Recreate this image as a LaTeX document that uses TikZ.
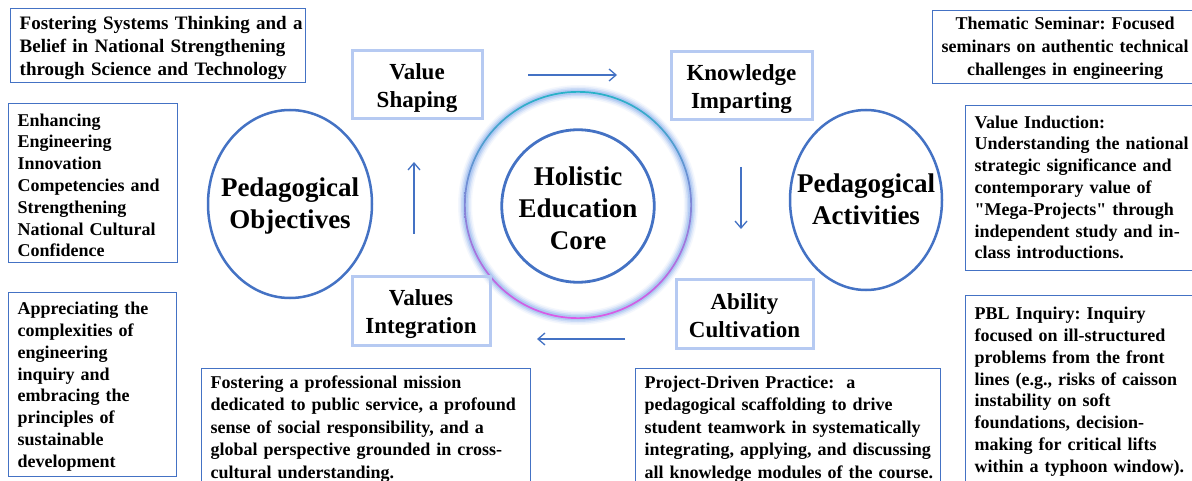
\documentclass[tikz,border=0pt]{standalone}
\usepackage{fontspec}
\setmainfont{Liberation Serif}
\newfontfamily\rawserif{Liberation Serif}[Ligatures=TeXOff]
\usetikzlibrary{arrows.meta,shapes.geometric}
\definecolor{edgeblue}{HTML}{4472C4}
\definecolor{paleedge}{RGB}{182,202,242}
\definecolor{haze}{RGB}{150,185,240}
\definecolor{ringtop}{RGB}{40,178,200}
\definecolor{ringmid}{RGB}{110,120,225}
\definecolor{ringbot}{RGB}{220,90,230}
\newcommand{\lns}[1]{\begin{tabular}{@{}l@{}}#1\end{tabular}}
\newcommand{\clns}[1]{\begin{tabular}{@{}c@{}}#1\end{tabular}}
% lower a block of lines without changing the size the node sees
\newcommand{\dropby}[2]{\raisebox{-#1}[\height][\depth]{#2}}
% straight double quote
\newcommand{\qt}{{\rawserif\bfseries"}}
\frenchspacing

\begin{document}
\begin{tikzpicture}[x=1pt,y=-1pt,
  sidebox/.style={draw=edgeblue, line width=1.4pt, anchor=north west,
    inner xsep=9pt, inner ysep=0pt, align=left,
    font=\bfseries\fontsize{18}{21.8}\selectfont},
  stagebox/.style={draw=paleedge, line width=3pt, align=center,
    inner sep=0pt, font=\bfseries\fontsize{23}{28}\selectfont},
  pillartext/.style={align=center, inner sep=0pt,
    font=\bfseries\fontsize{27}{32}\selectfont},
  pillar/.style={draw=edgeblue, line width=2.5pt},
  flow/.style={draw=edgeblue, line width=1.3pt,
    -{Straight Barb[length=7pt,width=12pt]}},
]
\useasboundingbox (0,0) rectangle (1192,481);
\clip (0,0) rectangle (1192,481);
\fill[white] (0,0) rectangle (1192,481);

% ---------- left column: objectives ----------
\node[sidebox, text width=277pt, minimum height=74pt,
      font=\bfseries\fontsize{19}{23}\selectfont] (objA) at (10,8)
  {\dropby{2pt}{\lns{Fostering Systems Thinking and a\\Belief in National Strengthening\\through Science and Technology}}};
\node[sidebox, text width=151pt, minimum height=159pt] (objB) at (8,103)
  {\dropby{4pt}{\lns{Enhancing\\Engineering\\Innovation\\Competencies and\\Strengthening\\National Cultural\\Confidence}}};
\node[sidebox, text width=150pt, minimum height=184pt] (objC) at (8,292)
  {\dropby{2pt}{\lns{Appreciating the\\complexities of\\engineering\\inquiry and\\embracing the\\principles of\\sustainable\\development}}};

% ---------- bottom row ----------
\node[sidebox, text width=311pt, minimum height=120pt,
      font=\bfseries\fontsize{18}{22.6}\selectfont] (integ) at (201,368)
  {\lns{Fostering a professional mission\\dedicated to public service, a profound\\sense of social responsibility, and a\\global perspective grounded in cross-\\cultural understanding.}};
\node[sidebox, text width=287pt, minimum height=120pt,
      font=\bfseries\fontsize{18}{22.6}\selectfont] (proj) at (635,368)
  {\lns{Project-Driven Practice:~ a\\pedagogical scaffolding to drive\\student teamwork in systematically\\integrating, applying, and discussing\\all knowledge modules of the course.}};

% ---------- right column: activities ----------
\node[sidebox, text width=246pt, minimum height=73pt, align=center,
      font=\bfseries\fontsize{18}{23}\selectfont] (seminar) at (932,10)
  {\dropby{1pt}{\clns{Thematic Seminar: Focused\\seminars on authentic technical\\challenges in engineering}}};
\node[sidebox, text width=240pt, minimum height=165pt] (induct) at (965,105)
  {\dropby{1pt}{\lns{Value Induction:\\Understanding the national\\strategic significance and\\contemporary value of\\\qt Mega-Projects\qt{} through\\independent study and in-\\class introductions.}}};
\node[sidebox, text width=240pt, minimum height=188pt] (pbl) at (965,295)
  {\dropby{2pt}{\lns{PBL Inquiry: Inquiry\\focused on ill-structured\\problems from the front\\lines (e.g., risks of caisson\\instability on soft\\foundations, decision-\\making for critical lifts\\within a typhoon window).}}};

% ---------- the two pillars ----------
\node[pillartext] (objectives) at (290,206) {Pedagogical\\Objectives};
\draw[pillar] (290,204) ellipse[x radius=82pt, y radius=94pt];
\node[pillartext] (activities) at (866,199) {Pedagogical\\Activities};
\draw[pillar] (866,200) ellipse[x radius=76pt, y radius=90pt];

% ---------- glowing ring around the core ----------
\coordinate (ringc) at (578,205);
\foreach \w/\o in {14/0.10, 11/0.18, 8/0.3, 5/0.5}
  \draw[haze, line width=\w pt, opacity=\o] (ringc) circle[radius=113pt];
\shade[top color=ringtop, middle color=ringmid, bottom color=ringbot, even odd rule]
  (ringc) circle[radius=114pt] (ringc) circle[radius=112.3pt];

\node[draw=edgeblue, line width=2.8pt, circle, minimum size=134pt, inner sep=0pt,
      font=\bfseries\fontsize{27}{32}\selectfont] (core) at (578,206)
  {\dropby{5pt}{\clns{Holistic\\Education\\Core}}};

% ---------- the four stages ----------
\node[stagebox, minimum width=130pt, minimum height=68pt] (shaping) at (417,85)
  {\dropby{3pt}{\clns{Value\\Shaping}}};
\node[stagebox, minimum width=141pt, minimum height=68pt] (imparting) at (741.5,86)
  {\dropby{3pt}{\clns{Knowledge\\Imparting}}};
\node[stagebox, minimum width=138pt, minimum height=68pt] (integration) at (421,311)
  {\dropby{3pt}{\clns{Values\\Integration}}};
\node[stagebox, minimum width=137pt, minimum height=68pt] (ability) at (744.5,314)
  {\dropby{4pt}{\clns{Ability\\Cultivation}}};

% ---------- cycle arrows ----------
\coordinate (t1) at (528,75);   \coordinate (t2) at (617,75);
\coordinate (r1) at (741,167);  \coordinate (r2) at (741,229);
\coordinate (b1) at (625,339);  \coordinate (b2) at (537,339);
\coordinate (l1) at (414,234);  \coordinate (l2) at (414,162);
\draw[flow] (t1) -- (t2);
\draw[flow] (r1) -- (r2);
\draw[flow] (b1) -- (b2);
\draw[flow] (l1) -- (l2);
\end{tikzpicture}
\end{document}
